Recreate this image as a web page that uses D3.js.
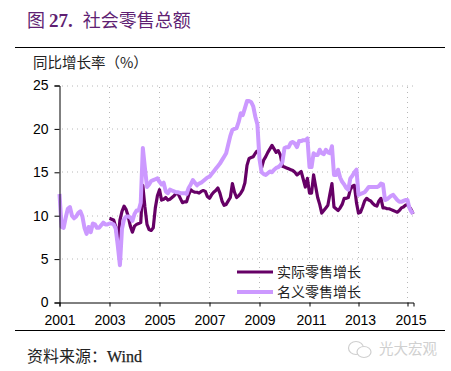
<!DOCTYPE html>
<html><head><meta charset="utf-8">
<script src="https://cdn.jsdelivr.net/npm/d3@7/dist/d3.min.js"></script>
<style>html,body{margin:0;padding:0;background:#fff}svg{display:block}</style>
</head><body><svg id="c" width="451" height="371"></svg>
<script>
const seriesNames = ["实际零售增长", "名义零售增长"];
const yTicks = [0, 5, 10, 15, 20, 25];
const xTickYears = [2001, 2003, 2005, 2007, 2009, 2011, 2013, 2015];
const startYear = 2001;
// monthly values beginning January 2001
const nominal = [12.5,8.7,8.6,9.8,10.8,11.0,10.0,9.7,9.9,10.3,10.5,9.9,
8.6,7.9,8.7,8.1,9.1,9.0,8.6,8.6,8.9,9.2,9.0,9.0,
9.1,9.1,9.0,8.5,6.5,4.3,8.5,9.6,9.9,9.9,9.8,9.4,
10.2,10.6,10.6,11.5,17.8,15.5,13.3,13.6,14.0,14.1,14.2,14.3,
13.9,13.6,13.8,12.8,12.6,13.0,12.9,12.8,12.7,12.7,12.6,12.6,
12.6,12.5,13.2,13.6,14.1,13.8,13.5,13.7,13.8,14.0,14.2,14.4,
14.5,14.8,15.1,15.4,15.7,16.0,16.4,16.8,17.2,18.2,19.2,19.9,
20.0,20.1,20.8,21.8,21.6,22.4,23.2,23.2,23.1,22.6,21.4,20.5,
16.5,15.0,14.8,14.7,14.9,15.1,15.0,15.3,15.5,15.6,15.8,16.2,
17.8,17.9,17.9,18.4,18.5,18.3,17.9,18.6,18.6,18.7,18.7,18.9,
15.6,15.6,17.2,17.0,17.0,17.6,17.2,17.1,17.6,17.3,17.2,18.0,
14.7,14.7,15.3,14.4,13.9,13.6,13.2,13.0,14.3,14.6,15.0,15.3,
12.4,12.5,12.6,12.7,13.0,13.3,13.3,13.3,13.3,13.3,13.4,13.7,
13.6,11.8,11.9,12.1,12.3,12.4,12.1,11.8,11.6,11.6,11.7,11.8,
11.8,10.9,10.5,10.2];
const real = [null,null,null,null,null,null,null,null,null,null,null,null,
null,null,null,null,null,null,null,null,null,null,null,null,
9.7,9.6,9.5,8.7,6.9,9.5,10.5,11.1,10.7,9.9,8.8,8.1,
8.8,9.0,9.1,9.2,13.5,11.0,9.0,8.4,8.3,8.6,10.9,12.3,
13.0,11.8,11.9,12.1,11.8,11.9,12.1,12.3,12.6,12.5,12.0,11.5,
11.6,11.6,12.4,13.0,12.8,12.7,12.7,12.6,12.8,12.9,12.8,12.2,
12.0,12.4,12.7,12.9,13.2,12.6,11.7,11.2,11.3,11.7,12.1,13.7,
12.7,12.1,12.3,12.6,13.0,13.8,15.8,16.6,16.7,16.8,17.2,17.5,
null,15.5,16.4,16.8,17.3,17.7,18.1,17.7,17.3,17.5,17.0,15.7,
15.6,15.5,15.4,15.3,15.2,15.0,14.7,14.9,15.1,14.2,13.3,14.3,
12.6,12.6,14.7,13.4,12.1,11.3,10.3,10.6,10.9,11.2,12.5,13.7,
11.0,10.8,10.6,10.9,11.3,12.0,12.0,12.1,13.0,13.4,13.5,11.5,
10.3,10.4,11.0,11.7,12.0,11.8,11.7,11.4,11.2,11.1,11.7,12.0,
10.9,10.9,10.8,10.8,10.7,10.6,10.5,10.4,10.6,10.9,11.0,11.2,
11.3,11.0,10.7,10.2];

const cjk = '"Noto Sans CJK SC","Liberation Sans",sans-serif';
const latin = '"Liberation Sans",Arial,sans-serif';
const serif = '"Liberation Serif",serif';
const dark = "#660066", light = "#CC99FF";

const svg = d3.select("#c");
const yearOf = i => startYear + i / 12;
const x = d3.scaleLinear().domain([2001, 2011, 2015, 2015.27]).range([59.5, 309.5, 407.5, 413.5]);
const y = d3.scaleLinear().domain([0, 25]).range([302.5, 85.5]);

// rules
svg.append("line").attr("x1",15).attr("x2",445).attr("y1",47.5).attr("y2",47.5).attr("stroke","#000").attr("stroke-width",1);
svg.append("line").attr("x1",15).attr("x2",445).attr("y1",330.5).attr("y2",330.5).attr("stroke","#000").attr("stroke-width",1);

// title
const t = svg.append("text").attr("x",27).attr("y",27).attr("fill","#5f1f73").attr("font-size",18).attr("font-family",cjk);
t.append("tspan").text("图 ");
t.append("tspan").attr("font-family",serif).attr("font-weight","bold").attr("font-size",19).text("27.");
t.append("tspan").attr("dx",10).text("社会零售总额");
// axis title
svg.append("text").attr("x",33).attr("y",68).attr("font-size",14.5).attr("font-family",cjk).attr("fill","#222").text("同比增长率（%）");

// grid
const grid = svg.append("g").attr("stroke","#b8b8b8").attr("stroke-width",1).attr("stroke-dasharray","1 4");
grid.selectAll("line.h").data(yTicks.slice(1)).join("line").attr("class","h")
  .attr("x1",62).attr("x2",413).attr("y1",d=>Math.round(y(d))).attr("y2",d=>Math.round(y(d)));
grid.selectAll("line.v").data(xTickYears.slice(1)).join("line").attr("class","v")
  .attr("x1",d=>x(d)).attr("x2",d=>x(d)).attr("y1",87).attr("y2",302);

// series
const line = d3.line().defined(d=>d!=null).x((d,i)=>x(yearOf(i))).y(d=>y(d)).curve(d3.curveLinear);
svg.append("path").datum(real).attr("d",line).attr("fill","none").attr("stroke",dark).attr("stroke-width",3.2).attr("stroke-linejoin","round");
svg.append("path").datum(nominal).attr("d",line).attr("fill","none").attr("stroke",light).attr("stroke-width",4).attr("stroke-linejoin","round");

// axes
const yAxis = svg.append("g").attr("transform","translate(59.5,0)").call(d3.axisLeft(y).tickValues(yTicks).tickSize(5).tickPadding(6));
const xAxis = svg.append("g").attr("transform","translate(0,302.5)").call(d3.axisBottom(x).tickValues(xTickYears).tickFormat(d3.format("d")).tickSize(4).tickPadding(9));
[yAxis,xAxis].forEach(g=>{
  g.selectAll("path,line").attr("stroke","#000");
  g.selectAll("text").attr("font-family",latin).attr("font-size",14).attr("fill","#000");
});
xAxis.selectAll("text").attr("dx",d=>d===2015?3:d>=2011?1.5:0);

// legend
const lg = svg.append("g").selectAll("g").data(seriesNames).join("g").attr("transform",(d,i)=>`translate(237,${272+i*20})`);
lg.append("line").attr("x1",0).attr("x2",36).attr("stroke",(d,i)=>i?light:dark).attr("stroke-width",(d,i)=>i?4:3.2);
lg.append("text").attr("x",40).attr("y",5).attr("font-size",14).attr("font-family",cjk).attr("fill","#222").text(d=>d);

// source
const s = svg.append("text").attr("x",27).attr("y",362).attr("font-size",16).attr("font-family",cjk).attr("fill","#222");
s.append("tspan").text("资料来源：");
s.append("tspan").attr("font-family",serif).attr("font-size",16).attr("stroke","#222").attr("stroke-width",0.25).text("Wind");

// watermark
const wm = svg.append("g").attr("fill","#fff").attr("stroke","#cfcfcf").attr("stroke-width",1.2);
wm.append("ellipse").attr("cx",356).attr("cy",348).attr("rx",7.5).attr("ry",6.5);
wm.append("ellipse").attr("cx",364).attr("cy",352).attr("rx",7).attr("ry",5.5);
svg.append("text").attr("x",379).attr("y",354).attr("font-size",14.5).attr("font-family",cjk).attr("fill","#d0d0d0").text("光大宏观");
</script></body></html>
